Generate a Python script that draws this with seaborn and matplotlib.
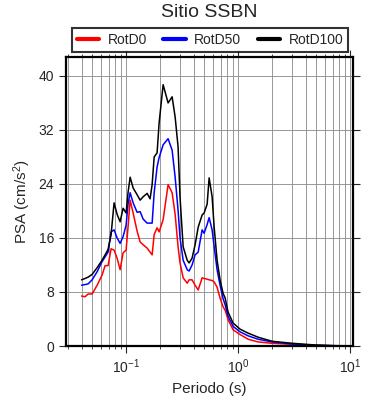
import numpy as np
import pandas as pd
import matplotlib
matplotlib.use('Agg')
import matplotlib.pyplot as plt
import seaborn as sns
from matplotlib.ticker import LogLocator, FixedLocator

# ── Data ─────────────────────────────────────────────────────
periodo = [0.040, 0.043, 0.0458, 0.0497, 0.0551, 0.061, 0.0649, 0.069, 0.0734,
           0.0781, 0.0831, 0.0884, 0.094, 0.100, 0.104, 0.1086, 0.1155, 0.1254,
           0.1334, 0.1418, 0.154, 0.1637, 0.1707, 0.178, 0.189, 0.197, 0.214,
           0.237, 0.2575, 0.274, 0.291, 0.303, 0.323, 0.351, 0.365, 0.388,
           0.413, 0.440, 0.477, 0.497, 0.529, 0.551, 0.586, 0.611, 0.649,
           0.690, 0.734, 0.766, 0.814, 0.902, 1.04, 1.23, 1.51, 2.01, 3.04,
           4.87, 7.35, 10.0]

rotd100 = [9.8, 10.0, 10.2, 10.6, 11.6, 12.7, 13.5, 14.3, 16.5, 21.2, 19.5, 18.4,
           20.4, 19.7, 22.7, 25.0, 23.4, 22.4, 21.6, 22.1, 22.6, 21.8, 23.9, 28.0,
           28.6, 33.0, 38.7, 36.0, 36.9, 33.9, 29.5, 22.0, 14.7, 12.7, 12.3, 13.0,
           15.0, 17.6, 19.4, 19.7, 21.0, 24.9, 22.1, 17.6, 12.7, 9.8, 7.8, 7.1,
           5.0, 3.4, 2.5, 1.9, 1.3, 0.7, 0.4, 0.15, 0.05, 0.02]

rotd50 = [9.0, 9.1, 9.2, 9.8, 11.0, 12.5, 13.2, 13.9, 16.9, 17.2, 16.0, 15.2,
          16.2, 17.9, 21.0, 22.7, 21.2, 19.8, 19.9, 18.8, 18.2, 18.2, 18.2, 22.7,
          26.5, 27.9, 29.8, 30.7, 29.0, 25.0, 20.1, 16.0, 12.7, 11.3, 11.1, 12.0,
          13.5, 13.9, 17.2, 16.7, 18.0, 19.0, 17.2, 14.7, 11.3, 9.0, 7.0, 6.1,
          4.4, 2.9, 2.1, 1.5, 1.0, 0.6, 0.3, 0.1, 0.04, 0.02]

rotd0 = [7.4, 7.3, 7.7, 7.7, 9.0, 10.5, 11.9, 11.9, 14.4, 14.2, 13.0, 11.3,
         13.8, 14.2, 17.6, 21.6, 19.7, 17.0, 15.4, 15.0, 14.5, 13.9, 13.5, 16.5,
         17.5, 16.9, 18.7, 23.9, 22.7, 19.5, 14.7, 12.3, 10.1, 9.3, 9.8, 9.8,
         9.0, 8.3, 10.1, 10.0, 9.9, 9.8, 9.7, 9.5, 8.7, 7.1, 5.8, 5.3,
         3.9, 2.4, 1.7, 1.0, 0.6, 0.4, 0.25, 0.08, 0.03, 0.01]

series = ["RotD0", "RotD50", "RotD100"]
colores = ["#ff0000", "#0000ff", "#000000"]

df = pd.concat([
    pd.DataFrame({"Periodo": periodo, "PSA": rotd0, "comp": "RotD0"}),
    pd.DataFrame({"Periodo": periodo, "PSA": rotd50, "comp": "RotD50"}),
    pd.DataFrame({"Periodo": periodo, "PSA": rotd100, "comp": "RotD100"}),
])

# ── Style ────────────────────────────────────────────────────
sns.set_style("ticks")
plt.rcParams['font.family'] = ['Liberation Sans', 'DejaVu Sans']
plt.rcParams['mathtext.default'] = 'regular'

fig = plt.figure(figsize=(3.9, 4.0), dpi=100)
ax = fig.add_axes([0.169, 0.135, 0.736, 0.7225])

sns.lineplot(data=df, x="Periodo", y="PSA", hue="comp", hue_order=series,
             palette=colores, estimator=None, sort=False, linewidth=1.1,
             legend=False, ax=ax, zorder=3)

ax.set_xscale('log')
ax.set_xlim(0.029, 10.6)
ax.set_ylim(0, 42.8)

ax.yaxis.set_major_locator(FixedLocator([0, 8, 16, 24, 32, 40]))
ax.xaxis.set_major_locator(LogLocator(base=10, numticks=10))
ax.xaxis.set_minor_locator(LogLocator(base=10, subs=np.arange(2, 10), numticks=20))

ax.grid(True, which='both', axis='x', color='#888888', linewidth=0.6)
ax.grid(True, which='major', axis='y', color='#888888', linewidth=0.6)
ax.set_axisbelow(True)

for s in ax.spines.values():
    s.set_linewidth(1.6)
    s.set_color('black')
    s.set_zorder(5)

ax.tick_params(which='major', direction='out', length=5, width=0.8,
               top=True, right=True, labelsize=10)
ax.tick_params(which='minor', direction='out', length=2.5, width=0.6,
               top=True, right=True)

ax.set_xlabel("Periodo (s)", fontsize=11)
ax.set_ylabel("PSA (cm/s$^{2}$)", fontsize=11, labelpad=4)

fig.text(0.537, 0.968, "Sitio SSBN", ha='center', va='center', fontsize=14)

handles = [plt.Line2D([], [], color=c, linewidth=3) for c in colores]
leg = fig.legend(handles, series, loc='center', ncol=3,
                 bbox_to_anchor=(0.5385, 0.9), fontsize=10,
                 frameon=True, fancybox=False, edgecolor='black',
                 handlelength=1.6, handletextpad=0.6, columnspacing=1.2,
                 borderpad=0.35, borderaxespad=0)
leg.get_frame().set_linewidth(1.5)

plt.savefig("out.png", dpi=100)
